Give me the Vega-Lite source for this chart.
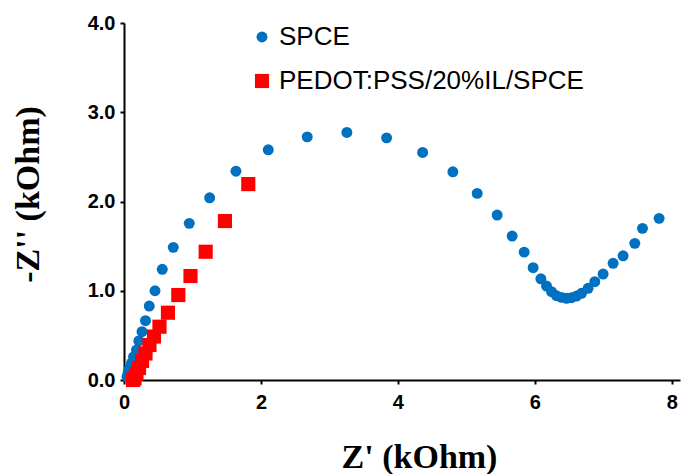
{
  "$schema": "https://vega.github.io/schema/vega-lite/v6.json",
  "width": 556,
  "height": 357,
  "autosize": "none",
  "padding": {"left": 124, "top": 23, "right": 1, "bottom": 94},
  "background": "white",
  "config": {
    "view": {"stroke": null},
    "axis": {
      "grid": false,
      "domainColor": "black",
      "domainWidth": 2,
      "tickColor": "black",
      "tickWidth": 2,
      "tickSize": 4,
      "labelFlush": false,
      "labelFont": "Liberation Sans",
      "labelFontWeight": "bold",
      "labelFontSize": 20,
      "labelColor": "black",
      "titleFont": "Liberation Serif",
      "titleFontWeight": "bold",
      "titleFontSize": 34,
      "titleColor": "black"
    }
  },
  "data": {
    "values": [
      {"s": "SPCE", "x": 0.044, "y": 0.034},
      {"s": "SPCE", "x": 0.058, "y": 0.078},
      {"s": "SPCE", "x": 0.08, "y": 0.134},
      {"s": "SPCE", "x": 0.11, "y": 0.19},
      {"s": "SPCE", "x": 0.139, "y": 0.258},
      {"s": "SPCE", "x": 0.182, "y": 0.336},
      {"s": "SPCE", "x": 0.216, "y": 0.437},
      {"s": "SPCE", "x": 0.263, "y": 0.541},
      {"s": "SPCE", "x": 0.314, "y": 0.664},
      {"s": "SPCE", "x": 0.369, "y": 0.829},
      {"s": "SPCE", "x": 0.453, "y": 1.0},
      {"s": "SPCE", "x": 0.559, "y": 1.24},
      {"s": "SPCE", "x": 0.72, "y": 1.486},
      {"s": "SPCE", "x": 0.953, "y": 1.755},
      {"s": "SPCE", "x": 1.251, "y": 2.041},
      {"s": "SPCE", "x": 1.635, "y": 2.34},
      {"s": "SPCE", "x": 2.107, "y": 2.579},
      {"s": "SPCE", "x": 2.676, "y": 2.724},
      {"s": "SPCE", "x": 3.255, "y": 2.774},
      {"s": "SPCE", "x": 3.835, "y": 2.713},
      {"s": "SPCE", "x": 4.361, "y": 2.55},
      {"s": "SPCE", "x": 4.803, "y": 2.333},
      {"s": "SPCE", "x": 5.158, "y": 2.091},
      {"s": "SPCE", "x": 5.45, "y": 1.848},
      {"s": "SPCE", "x": 5.669, "y": 1.613},
      {"s": "SPCE", "x": 5.844, "y": 1.433},
      {"s": "SPCE", "x": 5.975, "y": 1.258},
      {"s": "SPCE", "x": 6.088, "y": 1.134},
      {"s": "SPCE", "x": 6.171, "y": 1.053},
      {"s": "SPCE", "x": 6.244, "y": 0.989},
      {"s": "SPCE", "x": 6.317, "y": 0.944},
      {"s": "SPCE", "x": 6.39, "y": 0.926},
      {"s": "SPCE", "x": 6.463, "y": 0.915},
      {"s": "SPCE", "x": 6.536, "y": 0.922},
      {"s": "SPCE", "x": 6.609, "y": 0.941},
      {"s": "SPCE", "x": 6.682, "y": 0.971},
      {"s": "SPCE", "x": 6.778, "y": 1.027},
      {"s": "SPCE", "x": 6.876, "y": 1.101},
      {"s": "SPCE", "x": 6.997, "y": 1.187},
      {"s": "SPCE", "x": 7.143, "y": 1.307},
      {"s": "SPCE", "x": 7.289, "y": 1.392},
      {"s": "SPCE", "x": 7.46, "y": 1.531},
      {"s": "SPCE", "x": 7.572, "y": 1.699},
      {"s": "SPCE", "x": 7.815, "y": 1.811},
      {"s": "PEDOT:PSS/20%IL/SPCE", "x": 0.131, "y": 0.0},
      {"s": "PEDOT:PSS/20%IL/SPCE", "x": 0.153, "y": 0.017},
      {"s": "PEDOT:PSS/20%IL/SPCE", "x": 0.182, "y": 0.067},
      {"s": "PEDOT:PSS/20%IL/SPCE", "x": 0.219, "y": 0.134},
      {"s": "PEDOT:PSS/20%IL/SPCE", "x": 0.263, "y": 0.213},
      {"s": "PEDOT:PSS/20%IL/SPCE", "x": 0.314, "y": 0.297},
      {"s": "PEDOT:PSS/20%IL/SPCE", "x": 0.372, "y": 0.392},
      {"s": "PEDOT:PSS/20%IL/SPCE", "x": 0.438, "y": 0.487},
      {"s": "PEDOT:PSS/20%IL/SPCE", "x": 0.518, "y": 0.597},
      {"s": "PEDOT:PSS/20%IL/SPCE", "x": 0.642, "y": 0.754},
      {"s": "PEDOT:PSS/20%IL/SPCE", "x": 0.793, "y": 0.952},
      {"s": "PEDOT:PSS/20%IL/SPCE", "x": 0.971, "y": 1.165},
      {"s": "PEDOT:PSS/20%IL/SPCE", "x": 1.193, "y": 1.437},
      {"s": "PEDOT:PSS/20%IL/SPCE", "x": 1.474, "y": 1.781},
      {"s": "PEDOT:PSS/20%IL/SPCE", "x": 1.815, "y": 2.195}
    ]
  },
  "mark": {"type": "point", "filled": true, "opacity": 1},
  "encoding": {
    "x": {
      "field": "x", "type": "quantitative",
      "scale": {"domain": [0, 8.12], "nice": false, "zero": false},
      "axis": {"values": [0, 2, 4, 6, 8], "format": "d", "labelPadding": 8,
               "title": "Z' (kOhm)", "titleX": 295, "titleY": 87, "titleBaseline": "alphabetic", "titleAnchor": null}
    },
    "y": {
      "field": "y", "type": "quantitative",
      "scale": {"domain": [0, 4], "nice": false},
      "axis": {"values": [0, 1, 2, 3, 4], "format": ".1f", "labelPadding": 5,
               "title": "-Z'' (kOhm)", "titleX": -96, "titleY": 171, "titleAngle": 270, "titleBaseline": "middle", "titleAlign": "center"}
    },
    "color": {
      "field": "s", "type": "nominal",
      "scale": {"domain": ["SPCE", "PEDOT:PSS/20%IL/SPCE"], "range": ["#0070C0", "#FF0000"]},
      "legend": {
        "orient": "none", "legendX": 125, "legendY": 1, "title": null,
        "labelFont": "Liberation Sans", "labelFontSize": 26, "labelColor": "black", "labelLimit": 0,
        "rowPadding": 18, "labelOffset": 4, "symbolSize": 150, "padding": 0
      }
    },
    "shape": {
      "field": "s", "type": "nominal",
      "scale": {"domain": ["SPCE", "PEDOT:PSS/20%IL/SPCE"], "range": ["circle", "square"]},
      "legend": null
    },
    "size": {
      "field": "s", "type": "nominal",
      "scale": {"domain": ["SPCE", "PEDOT:PSS/20%IL/SPCE"], "range": [120, 200]},
      "legend": null
    }
  }
}
